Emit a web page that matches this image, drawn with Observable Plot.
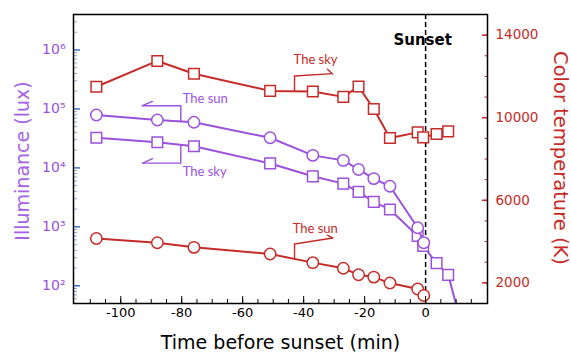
<!DOCTYPE html>
<html>
<head>
<meta charset="utf-8">
<script src="https://cdn.jsdelivr.net/npm/d3@7"></script>
<script src="https://cdn.jsdelivr.net/npm/@observablehq/plot@0.6"></script>
<style>
  html, body { margin: 0; padding: 0; background: white; }
</style>
</head>
<body>
<div id="chart"></div>
<script>
// ---- data ----
const skyTime = [-108, -88, -76, -51, -37, -27, -22, -17, -11.7, -2.6, -0.8, 3.6, 7.4];
const skyTempK = [11500, 12750, 12130, 11300, 11270, 11010, 11510, 10420, 9020, 9290, 9050, 9210, 9340];
const skyLuxTime = [-108, -88, -76, -51, -37, -27, -22, -17, -11.7, -2.6, -0.8, 3.6, 7.4, 12];
const skyLux = [32400, 27200, 23300, 11900, 7190, 5410, 3910, 2650, 1970, 698, 473, 242, 153, 20];
const sunTime = [-108, -88, -76, -51, -37, -27, -22, -17, -11.7, -2.6, -0.6];
const sunLux = [79000, 65000, 59300, 32400, 16300, 13400, 9400, 6580, 4880, 964, 538];
const sunTempK = [4150, 3940, 3720, 3400, 2980, 2710, 2390, 2280, 1990, 1700, 1390];

const xMajor = [-100, -80, -60, -40, -20, 0];
const xMinor = d3.range(-110, 20, 5);
const luxMajor = [1e2, 1e3, 1e4, 1e5, 1e6];
const luxLabels = ["10²", "10³", "10⁴", "10⁵", "10⁶"];
const tempMajor = [2000, 6000, 10000, 14000];
const tempMinor = d3.range(2000, 15000, 1000);

const purple = "#9b52dc";
const purpleLight = "#a663e4";
const red = "#c62b27";
const font = "DejaVu Sans";

// right (temperature) axis is linear 1000..15000 laid onto the log lux scale
const luxDomain = [50, 4e6];
const tempDomain = [1000, 15000];
const L0 = Math.log10(luxDomain[0]), L1 = Math.log10(luxDomain[1]);
const tempToY = t => 10 ** (L0 + (t - tempDomain[0]) / (tempDomain[1] - tempDomain[0]) * (L1 - L0));

const zip = (a, b) => a.map((v, i) => [v, b[i]]);
const skyTemp = zip(skyTime, skyTempK);
const skyL = zip(skyLuxTime, skyLux);
const sunL = zip(sunTime, sunLux);
const sunTemp = zip(sunTime, sunTempK);

// annotations (data units: minutes, lux or kelvin)
const annPurpleSun = [[-80.3, 61000], [-80.3, 113500], [-92.9, 113500]];
const annPurpleSunBarb = [[-92.9, 113500], [-89.6, 134000]];
const annPurpleSky = [[-80.3, 24500], [-80.3, 12050], [-92.8, 12050]];
const annPurpleSkyBarb = [[-92.8, 12050], [-89.6, 14300]];
const annRedSky = [[-43, 11280], [-43, 12020], [-30.6, 12134]];
const annRedSkyBarb = [[-30.6, 12134], [-32.2, 12346]];
const annRedSun = [[-43, 3160], [-43, 3880], [-30.5, 4170]];
const annRedSunBarb = [[-30.5, 4170], [-32.2, 4313]];
const labels = [
  {x: -79.7, lux: 149000, text: "The sun", color: purple},
  {x: -79.7, lux: 8490, text: "The sky", color: purple},
  {x: -43.3, temp: 12795, text: "The sky", color: red},
  {x: -43.6, temp: 4602, text: "The sun", color: red}
];

const luxMap = new Map(luxMajor.map((v, i) => [v, luxLabels[i]]));

const px = d => d[0], pyL = d => d[1], pyT = d => tempToY(d[1]);
const annLine = (pts, fy, color) => Plot.line(pts, {x: px, y: fy, stroke: color, strokeWidth: 1.4});

const chart = Plot.plot({
  width: 571,
  height: 353,
  marginLeft: 73,
  marginRight: 84,
  marginTop: 14,
  marginBottom: 50,
  style: {fontFamily: font, background: "white", overflow: "visible"},
  x: {domain: [-115.5, 20.3]},
  y: {type: "log", domain: luxDomain},
  marks: [
    // sunset line
    Plot.ruleX([0], {x: d => d, stroke: "black", strokeWidth: 1.5, strokeDasharray: "5,3"}),
    Plot.text(["Sunset"], {x: () => 0, frameAnchor: "top", dy: 26, dx: -3, fontWeight: "bold", fontSize: 15, fill: "black", lineAnchor: "middle"}),

    // series
    Plot.line(skyTemp, {x: px, y: pyT, stroke: red, strokeWidth: 2, clip: true}),
    Plot.dot(skyTemp, {x: px, y: pyT, symbol: "square", r: 6, stroke: red, fill: "white", strokeWidth: 1.5, clip: true}),
    Plot.line(sunTemp, {x: px, y: pyT, stroke: red, strokeWidth: 2, clip: true}),
    Plot.dot(sunTemp, {x: px, y: pyT, symbol: "circle", r: 5.7, stroke: red, fill: "white", strokeWidth: 1.5, clip: true}),
    Plot.line(skyL, {x: px, y: pyL, stroke: purple, strokeWidth: 2, clip: true}),
    Plot.dot(skyL, {x: px, y: pyL, symbol: "square", r: 6, stroke: purple, fill: "white", strokeWidth: 1.5, clip: true}),
    Plot.line(sunL, {x: px, y: pyL, stroke: purple, strokeWidth: 2, clip: true}),
    Plot.dot(sunL, {x: px, y: pyL, symbol: "circle", r: 5.7, stroke: purple, fill: "white", strokeWidth: 1.5, clip: true}),

    // annotations
    annLine(annPurpleSun, pyL, purple),
    annLine(annPurpleSunBarb, pyL, purple),
    annLine(annPurpleSky, pyL, purple),
    annLine(annPurpleSkyBarb, pyL, purple),
    annLine(annRedSky, pyT, red),
    annLine(annRedSkyBarb, pyT, red),
    annLine(annRedSun, pyT, red),
    annLine(annRedSunBarb, pyT, red),
    Plot.text(labels, {x: "x", y: d => d.lux ?? tempToY(d.temp), text: "text", fill: d => d.color, textAnchor: "start", fontSize: 13, fontFamily: "Lato", lineAnchor: "middle"}),

    // x axis
    Plot.axisX(xMinor, {anchor: "bottom", tickSize: -4, fill: "none", stroke: "black", label: null}),
    Plot.axisX(xMajor, {anchor: "bottom", tickSize: -7, fill: "none", stroke: "black", label: null}),
    Plot.axisX(xMajor, {anchor: "bottom", tickSize: 0, tickPadding: 4, fontSize: 13, fill: "black", label: null, tickFormat: d => d < 0 ? "-" + Math.abs(d) : String(d)}),

    // left y axis (lux)
    Plot.axisY(d3.range(2, 6).flatMap(e => d3.range(2, 10).map(m => m * 10 ** e)).concat([60, 70, 80, 90, 2e6, 3e6]), {anchor: "left", tickSize: -4, fill: "none", stroke: "#8ea6cf", label: null}),
    Plot.axisY(luxMajor, {anchor: "left", tickSize: -7, fill: "none", stroke: "#3a72c4", strokeWidth: 1.5, label: null}),
    Plot.axisY(luxMajor, {anchor: "left", tickSize: 0, tickPadding: 8, fontSize: 14, fill: purple, label: null, tickFormat: d => luxMap.get(d)}),

    // right y axis (colour temperature)
    Plot.axisY(tempMinor.map(tempToY), {anchor: "right", tickSize: -3.5, fill: "none", stroke: red, label: null}),
    Plot.axisY(tempMajor.map(tempToY), {anchor: "right", tickSize: -6, fill: "none", stroke: red, strokeWidth: 1.5, label: null}),
    Plot.text(tempMajor, {y: tempToY, text: d => String(d), frameAnchor: "right", textAnchor: "start", dx: 8, fontSize: 13.5, fill: red, lineAnchor: "middle"}),

    // axis titles
    Plot.text(["Time before sunset (min)"], {frameAnchor: "bottom", dy: 39, fontSize: 19, fill: "black", lineAnchor: "middle"}),
    Plot.text(["Illuminance (lux)"], {frameAnchor: "left", textAnchor: "middle", dx: -51, dy: 2, rotate: -90, fontSize: 19, fill: purpleLight, lineAnchor: "middle"}),
    Plot.text(["Color temperature (K)"], {frameAnchor: "right", textAnchor: "middle", dx: 73, dy: -1, rotate: 90, fontSize: 19.5, fill: red, lineAnchor: "middle"}),

    Plot.frame({stroke: "black", strokeWidth: 1.5})
  ]
});
document.getElementById("chart").appendChild(chart);
</script>
</body>
</html>
